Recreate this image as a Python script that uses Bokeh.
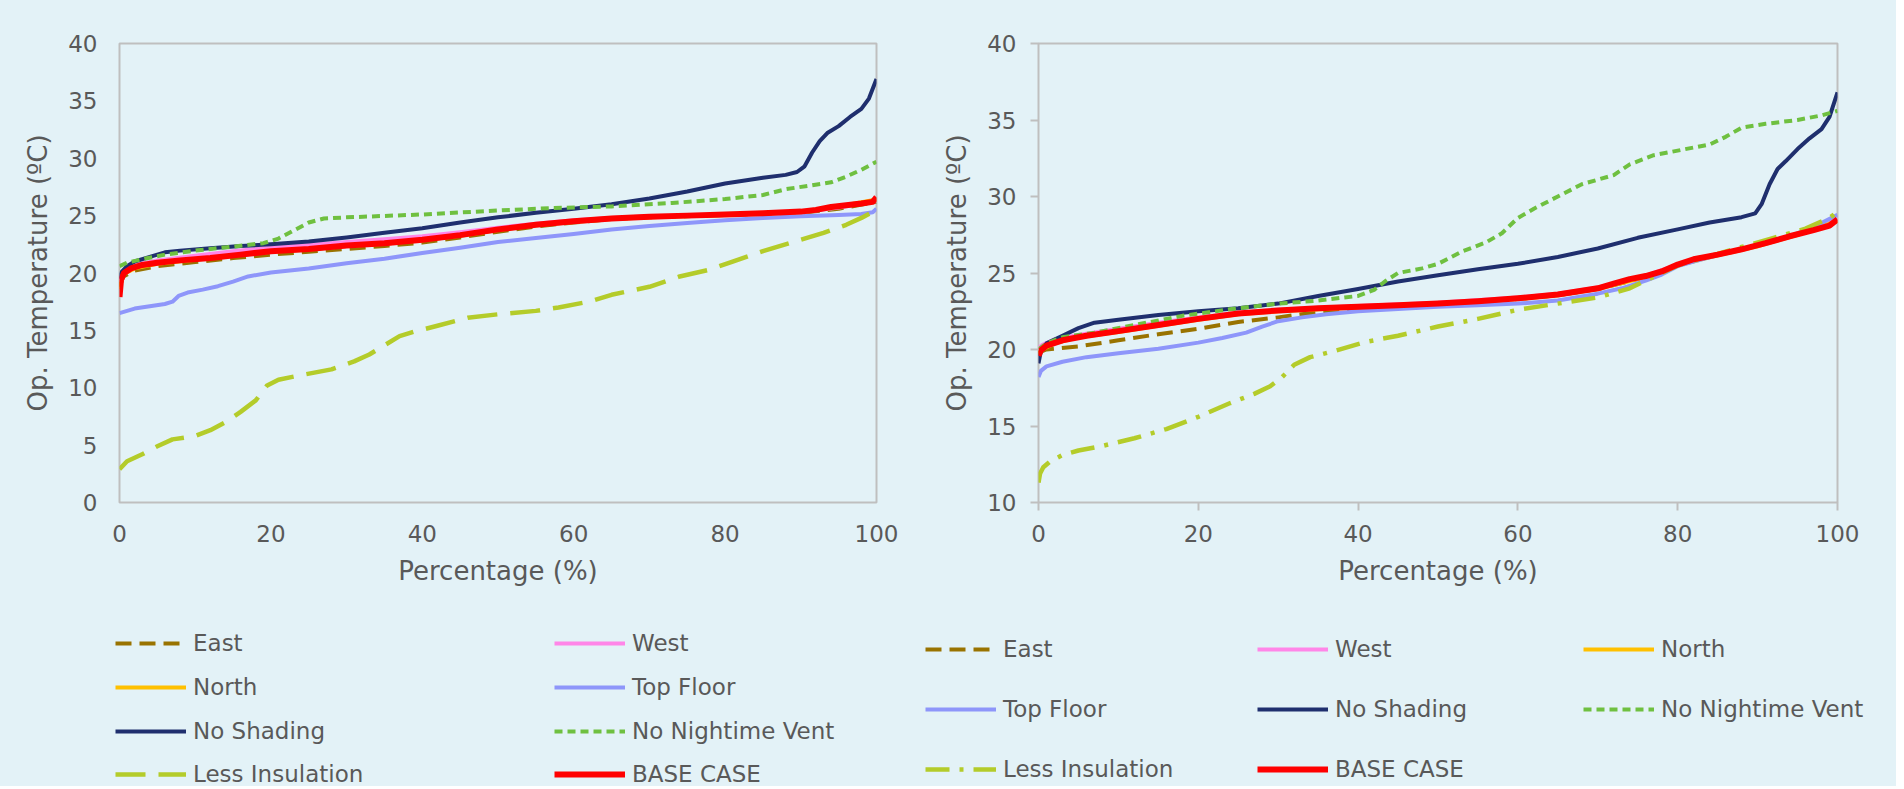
from bokeh.plotting import figure
from bokeh.models import Range1d, FixedTicker, Legend, LegendItem
from bokeh.layouts import row, column
from bokeh.embed import file_html
from bokeh.resources import INLINE

# ---------------- data ----------------
SERIES = ["East", "West", "North", "Top Floor", "No Shading",
          "No Nightime Vent", "Less Insulation", "BASE CASE"]

# Left panel
L_east_x = [0, 0.5, 2, 5, 10, 15, 20, 25, 30, 35, 40, 45, 50, 55, 60, 65, 70, 80, 90, 95, 100]
L_east_t = [18.8, 19.7, 20.2, 20.6, 20.95, 21.3, 21.6, 21.85, 22.1, 22.35, 22.65, 23.1, 23.6, 24.05, 24.4, 24.7, 24.85, 25.05, 25.25, 25.6, 26.2]
L_west_x = [0, 0.5, 2, 5, 10, 15, 20, 25, 30, 35, 40, 45, 50, 55, 60, 65, 70, 80, 90, 95, 100]
L_west_t = [19.2, 20.2, 20.7, 21.1, 21.5, 21.9, 22.2, 22.45, 22.7, 22.95, 23.2, 23.55, 23.95, 24.3, 24.6, 24.8, 24.95, 25.1, 25.3, 25.7, 26.3]
L_north_x = [0, 0.5, 2, 5, 10, 15, 20, 25, 30, 35, 40, 45, 50, 55, 60, 65, 70, 80, 90, 95, 100]
L_north_t = [18.6, 19.9, 20.4, 20.8, 21.15, 21.5, 21.85, 22.05, 22.35, 22.55, 22.85, 23.25, 23.75, 24.15, 24.45, 24.7, 24.85, 25.05, 25.3, 25.8, 26.4]
L_top_x = [0, 2, 4, 6, 7, 7.8, 9, 11, 13, 15, 17, 20, 25, 30, 35, 40, 45, 50, 55, 60, 65, 70, 75, 80, 85, 90, 95, 98, 99.5, 100]
L_top_t = [16.5, 16.9, 17.1, 17.3, 17.5, 18.0, 18.3, 18.55, 18.85, 19.25, 19.7, 20.05, 20.4, 20.85, 21.25, 21.75, 22.2, 22.7, 23.05, 23.4, 23.8, 24.1, 24.35, 24.6, 24.8, 24.95, 25.05, 25.15, 25.3, 25.6]
L_nosh_x = [0, 0.3, 1, 2, 4, 6, 8, 12, 16, 20, 25, 30, 35, 40, 45, 50, 55, 60, 65, 70, 75, 80, 85, 88, 89.5, 90.5, 91.5, 92.5, 93.5, 95, 96.5, 98, 99, 100]
L_nosh_t = [19.5, 20.1, 20.6, 21.0, 21.4, 21.8, 21.95, 22.15, 22.35, 22.5, 22.75, 23.1, 23.5, 23.9, 24.4, 24.85, 25.25, 25.6, 26.0, 26.5, 27.1, 27.8, 28.3, 28.55, 28.8, 29.3, 30.5, 31.5, 32.2, 32.8, 33.6, 34.3, 35.2, 36.9]
L_vent_x = [0, 1, 3, 6, 10, 15, 19, 21, 23, 25, 27, 30, 40, 50, 57, 65, 73, 80, 85, 88, 91, 94, 96, 98, 100]
L_vent_t = [20.6, 20.9, 21.2, 21.6, 21.95, 22.3, 22.6, 23.0, 23.7, 24.4, 24.75, 24.85, 25.1, 25.45, 25.65, 25.8, 26.1, 26.45, 26.8, 27.3, 27.6, 27.9, 28.4, 29.0, 29.7]
L_ins_x = [0, 1, 3, 5, 7, 10, 12, 14, 16, 18, 19.5, 21, 24, 28, 31, 33, 35, 37, 39, 42, 46, 50, 55, 58, 62, 65, 70, 74, 78, 81, 85, 89, 93, 96, 98, 100]
L_ins_t = [2.9, 3.6, 4.2, 4.9, 5.5, 5.8, 6.3, 7.0, 7.9, 8.9, 10.2, 10.7, 11.1, 11.6, 12.3, 12.9, 13.7, 14.5, 14.9, 15.4, 16.1, 16.4, 16.7, 17.0, 17.5, 18.1, 18.8, 19.7, 20.3, 21.0, 21.9, 22.7, 23.5, 24.2, 24.8, 25.5]
L_base_x = [0, 0.2, 0.6, 1.5, 3, 5, 8, 12, 16, 20, 25, 30, 35, 40, 45, 50, 55, 60, 65, 70, 75, 80, 85, 90, 92, 94, 96, 98, 99.5, 100]
L_base_t = [17.9, 19.4, 20.0, 20.4, 20.7, 20.9, 21.1, 21.3, 21.6, 21.9, 22.1, 22.4, 22.6, 22.9, 23.3, 23.8, 24.2, 24.5, 24.75, 24.9, 25.0, 25.1, 25.2, 25.35, 25.5, 25.75, 25.9, 26.05, 26.2, 26.6]

# Right panel
R_east_x = [0, 1, 5, 10, 15, 20, 25, 30, 35, 40, 45, 50, 55, 60, 65, 70, 75, 80, 85, 90, 95, 100]
R_east_t = [19.8, 20.0, 20.2, 20.6, 21.0, 21.35, 21.8, 22.1, 22.45, 22.7, 22.85, 22.95, 23.1, 23.3, 23.55, 23.95, 24.6, 25.5, 26.2, 26.8, 27.55, 28.3]
R_west_x = [0, 0.5, 2, 5, 10, 15, 20, 25, 30, 40, 50, 60, 65, 70, 75, 80, 85, 90, 95, 100]
R_west_t = [20.1, 20.3, 20.65, 20.95, 21.35, 21.75, 22.1, 22.4, 22.6, 22.85, 23.05, 23.4, 23.65, 24.05, 24.65, 25.55, 26.2, 26.8, 27.5, 28.5]
R_north_x = [0, 0.5, 2, 5, 10, 15, 20, 25, 30, 40, 50, 60, 65, 70, 75, 80, 85, 90, 95, 100]
R_north_t = [19.7, 20.0, 20.4, 20.8, 21.15, 21.55, 21.95, 22.3, 22.5, 22.75, 22.95, 23.3, 23.55, 23.95, 24.6, 25.5, 26.15, 26.75, 27.5, 28.4]
R_top_x = [0, 0.3, 1, 3, 6, 10, 15, 20, 23, 26, 28, 30, 33, 36, 40, 45, 50, 55, 60, 65, 70, 73, 76, 78, 80, 83, 86, 90, 94, 97, 100]
R_top_t = [18.2, 18.6, 18.9, 19.2, 19.5, 19.75, 20.05, 20.45, 20.75, 21.1, 21.5, 21.85, 22.1, 22.3, 22.5, 22.65, 22.8, 22.9, 23.0, 23.2, 23.65, 24.0, 24.5, 24.9, 25.45, 25.9, 26.3, 26.8, 27.4, 28.0, 28.8]
R_nosh_x = [0, 0.3, 1, 3, 5, 7, 10, 15, 20, 25, 30, 35, 40, 45, 50, 55, 60, 65, 70, 75, 80, 84, 88, 89.7, 90.5, 91.5, 92.5, 93.5, 95, 96.5, 98, 99, 100]
R_nosh_t = [19.1, 19.9, 20.4, 20.9, 21.4, 21.75, 21.95, 22.25, 22.5, 22.7, 23.0, 23.5, 23.95, 24.45, 24.85, 25.25, 25.6, 26.05, 26.6, 27.3, 27.85, 28.3, 28.65, 28.9, 29.5, 30.8, 31.8, 32.3, 33.1, 33.8, 34.4, 35.2, 36.8]
R_vent_x = [0, 1, 3, 7, 12, 18, 25, 30, 35, 40, 42, 43.5, 45, 48, 50, 53, 56, 58, 60, 62, 65, 68, 70, 72, 74, 77, 80, 84, 86, 88, 91, 95, 98, 100]
R_vent_t = [20.0, 20.4, 20.8, 21.1, 21.6, 22.2, 22.7, 23.0, 23.2, 23.5, 23.9, 24.5, 25.0, 25.3, 25.6, 26.4, 27.0, 27.6, 28.6, 29.2, 30.0, 30.8, 31.1, 31.4, 32.1, 32.7, 33.0, 33.4, 33.9, 34.5, 34.75, 35.0, 35.3, 35.6]
R_ins_x = [0, 0.2, 0.6, 1.5, 3, 5, 8, 12, 16, 20, 24, 27, 29, 30.5, 32, 34, 37, 41, 45, 50, 55, 60, 65, 70, 74, 76, 78, 80, 84, 88, 92, 96, 99, 100]
R_ins_t = [11.3, 11.9, 12.3, 12.7, 13.1, 13.4, 13.7, 14.2, 14.8, 15.6, 16.5, 17.1, 17.6, 18.2, 19.0, 19.5, 19.9, 20.5, 20.9, 21.5, 22.0, 22.6, 23.0, 23.4, 24.0, 24.5, 25.0, 25.5, 26.1, 26.7, 27.3, 27.9, 28.6, 29.0]
R_base_x = [0, 0.3, 1, 3, 6, 10, 15, 20, 25, 30, 35, 40, 45, 50, 55, 60, 65, 70, 72, 74, 76, 78, 80, 82, 85, 88, 91, 94, 97, 99, 100]
R_base_t = [19.6, 19.95, 20.25, 20.6, 20.9, 21.2, 21.6, 22.0, 22.35, 22.55, 22.7, 22.8, 22.9, 23.0, 23.15, 23.35, 23.6, 24.0, 24.3, 24.6, 24.8, 25.1, 25.55, 25.9, 26.2, 26.55, 26.95, 27.4, 27.8, 28.1, 28.5]

X_TICKS = [0, 20, 40, 60, 80, 100]
L_Y_TICKS = [0, 5, 10, 15, 20, 25, 30, 35, 40]
R_Y_TICKS = [10, 15, 20, 25, 30, 35, 40]
X_TITLE = "Percentage (%)"
Y_TITLE = "Op. Temperature (ºC)"

LEFT = [(L_east_x, L_east_t), (L_west_x, L_west_t), (L_north_x, L_north_t), (L_top_x, L_top_t),
        (L_nosh_x, L_nosh_t), (L_vent_x, L_vent_t), (L_ins_x, L_ins_t), (L_base_x, L_base_t)]
RIGHT = [(R_east_x, R_east_t), (R_west_x, R_west_t), (R_north_x, R_north_t), (R_top_x, R_top_t),
         (R_nosh_x, R_nosh_t), (R_vent_x, R_vent_t), (R_ins_x, R_ins_t), (R_base_x, R_base_t)]

# ---------------- styles ----------------
BG = "#E3F2F7"
TXT = "#595959"
GRAYLINE = "#BFBFBF"
FONT = "DejaVu Sans"
COLORS = ["#997300", "#FF86E8", "#FFC000", "#8E96FA", "#1F2F6E", "#6FC040", "#B4CC2A", "#FF0000"]
WIDTHS = [4, 4, 4, 4, 4, 4, 4.5, 6]
L_DASH = ["16 8", "solid", "solid", "solid", "solid", "8 5", "30 13", "solid"]
R_DASH = ["16 8", "solid", "solid", "solid", "solid", "8 5", "24 10 4 10", "solid"]

PLOT_H = 615
LEG_H = 171


def make_panel(data, dashes, y_lo, y_ticks, width, b_left, b_right, ticks):
    p = figure(width=width, height=PLOT_H, output_backend="svg", toolbar_location=None,
               x_range=Range1d(0, 100), y_range=Range1d(y_lo, 40),
               min_border_left=b_left, min_border_right=b_right,
               min_border_top=43, min_border_bottom=PLOT_H - 502)
    p.background_fill_color = BG
    p.border_fill_color = BG
    p.outline_line_color = GRAYLINE
    p.outline_line_width = 2
    p.grid.visible = False
    p.xaxis.ticker = FixedTicker(ticks=X_TICKS)
    p.yaxis.ticker = FixedTicker(ticks=y_ticks)
    for ax in (p.xaxis[0], p.yaxis[0]):
        ax.axis_line_color = None
        ax.minor_tick_line_color = None
        ax.major_label_text_font = FONT
        ax.major_label_text_font_size = "23px"
        ax.major_label_text_color = TXT
        ax.axis_label_text_font = FONT
        ax.axis_label_text_font_size = "26px"
        ax.axis_label_text_font_style = "normal"
        ax.axis_label_text_color = TXT
        if ticks:
            ax.major_tick_line_color = GRAYLINE
            ax.major_tick_line_width = 2
            ax.major_tick_out = 8
            ax.major_tick_in = 0
            ax.major_label_standoff = 14
        else:
            ax.major_tick_line_color = None
            ax.major_tick_out = 0
            ax.major_tick_in = 0
            ax.major_label_standoff = 22
    p.xaxis.axis_label = X_TITLE
    p.yaxis.axis_label = Y_TITLE
    p.xaxis.axis_label_standoff = 11
    p.yaxis.axis_label_standoff = 12

    for (xs, ts), c, w, d in zip(data, COLORS, WIDTHS, dashes):
        p.line(xs, ts, line_color=c, line_width=w, line_dash=d, line_join="round")
    return p


def make_legend(data, dashes, width, fig_x, cols_x, rows_y, ncols):
    # legend-only figure: the series lines lie outside its view,
    # only their legend swatches are visible
    lg = figure(width=width, height=LEG_H, output_backend="svg", toolbar_location=None,
                x_range=Range1d(0, 1), y_range=Range1d(-1, 0),
                x_axis_type=None, y_axis_type=None, min_border=0)
    lg.background_fill_color = BG
    lg.border_fill_color = BG
    lg.outline_line_color = None
    lg.grid.visible = False
    H = 28
    bottom = PLOT_H + LEG_H
    for i, (name, (xs, ts), c, w, d) in enumerate(zip(SERIES, data, COLORS, WIDTHS, dashes)):
        r = lg.line(xs, ts, line_color=c, line_width=w, line_dash=d)
        rr, cc = divmod(i, ncols)
        vx = cols_x[cc] - fig_x
        vy = bottom - (rows_y[rr] + H / 2)
        leg = Legend(items=[LegendItem(label=name, renderers=[r])], location=(vx, vy),
                     glyph_width=71, glyph_height=H, label_height=H, label_standoff=7,
                     padding=0, margin=0, spacing=0,
                     label_text_font=FONT, label_text_font_size="23px", label_text_color=TXT,
                     border_line_alpha=0, background_fill_alpha=0)
        lg.add_layout(leg, "center")
    return lg


LW, RW = 920, 976
left = make_panel(LEFT, L_DASH, 0, L_Y_TICKS, LW, 119, LW - 876, False)
right = make_panel(RIGHT, R_DASH, 10, R_Y_TICKS, RW, 1038 - LW, LW + RW - 1837, True)
left_leg = make_legend(LEFT, L_DASH, LW, 0, [115, 554], [643, 687, 731, 774], 2)
right_leg = make_legend(RIGHT, R_DASH, RW, LW, [925, 1257, 1583], [649, 709, 769], 3)

bgstyle = {"background-color": BG}
top_row = row(left, right, spacing=0, styles=bgstyle)
bot_row = row(left_leg, right_leg, spacing=0, styles=bgstyle)
layout = column(top_row, bot_row, spacing=0, styles=bgstyle)
open("out.html", "w").write(file_html(layout, INLINE))
